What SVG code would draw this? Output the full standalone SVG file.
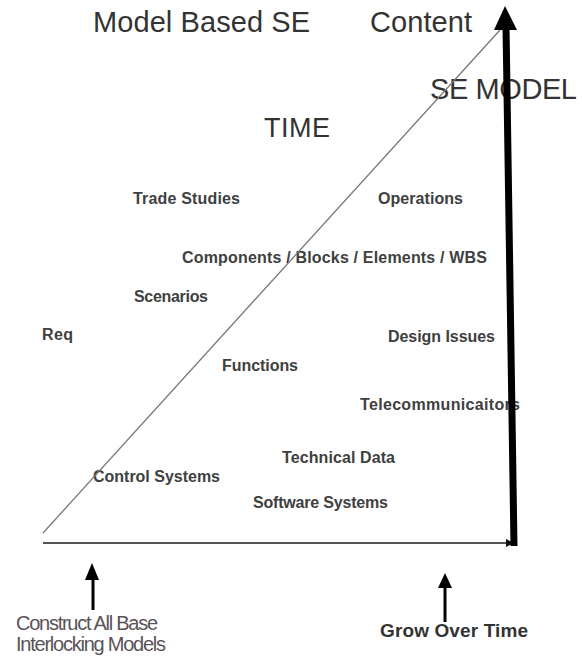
<svg xmlns="http://www.w3.org/2000/svg" width="582" height="657" viewBox="0 0 582 657">
<style>
.title{font-family:"Liberation Sans",Arial,sans-serif;font-size:29px;fill:#333}
.lbl{font-family:"Liberation Sans",Arial,sans-serif;font-size:16px;font-weight:bold;fill:#404040}
.foot{font-family:"Liberation Sans",Arial,sans-serif;font-size:20px;fill:#5a5358}
.footb{font-family:"Liberation Sans",Arial,sans-serif;font-size:19px;font-weight:bold;fill:#333}
</style>
<rect width="582" height="657" fill="#fff"/>
<g id="title-model-based-se"><text class="title" x="93" y="32" textLength="217">Model Based SE</text></g>
<g id="title-content"><text class="title" x="370" y="32" textLength="102">Content</text></g>
<g id="se-model"><text class="title" x="430" y="99" textLength="147">SE MODEL</text></g>
<g id="time"><text class="title" x="264" y="137" style="font-size:27px" textLength="66">TIME</text></g>
<g id="trade-studies"><text class="lbl" x="133" y="204" textLength="107">Trade Studies</text></g>
<g id="operations"><text class="lbl" x="378" y="204" textLength="85">Operations</text></g>
<g id="components"><text class="lbl" x="182" y="263" textLength="305">Components / Blocks / Elements / WBS</text></g>
<g id="scenarios"><text class="lbl" x="134" y="302" textLength="74">Scenarios</text></g>
<g id="req"><text class="lbl" x="42" y="340" textLength="31">Req</text></g>
<g id="design-issues"><text class="lbl" x="388" y="342" textLength="107">Design Issues</text></g>
<g id="functions"><text class="lbl" x="222" y="371" textLength="76">Functions</text></g>
<g id="telecom"><text class="lbl" x="360" y="410" textLength="160">Telecommunicaitors</text></g>
<g id="technical-data"><text class="lbl" x="282" y="463" textLength="113">Technical Data</text></g>
<g id="control-systems"><text class="lbl" x="93" y="482" textLength="127">Control Systems</text></g>
<g id="software-systems"><text class="lbl" x="253" y="508" textLength="135">Software Systems</text></g>
<g id="construct"><text class="foot" x="16" y="630" textLength="142">Construct All Base</text><text class="foot" x="16" y="651" textLength="150">Interlocking Models</text></g>
<g id="grow"><text class="footb" x="380" y="637" textLength="148">Grow Over Time</text></g>
<g id="connectors">
<line x1="43" y1="533" x2="500" y2="30" stroke="#777" stroke-width="1.3"/>
<line x1="43" y1="543" x2="508" y2="543" stroke="#555" stroke-width="2"/>
<polygon points="514,543 506,539 506,547" fill="#111"/>
<line x1="506" y1="26" x2="514" y2="546" stroke="#000" stroke-width="7"/>
<polygon points="505,6 494,30 517,30" fill="#000"/>
<line x1="93" y1="578" x2="93" y2="610" stroke="#000" stroke-width="3"/>
<polygon points="92,563 85,580 99,580" fill="#000"/>
<line x1="445" y1="586" x2="445" y2="622" stroke="#000" stroke-width="3"/>
<polygon points="445,573 438,588 452,588" fill="#000"/>
</g>
</svg>
